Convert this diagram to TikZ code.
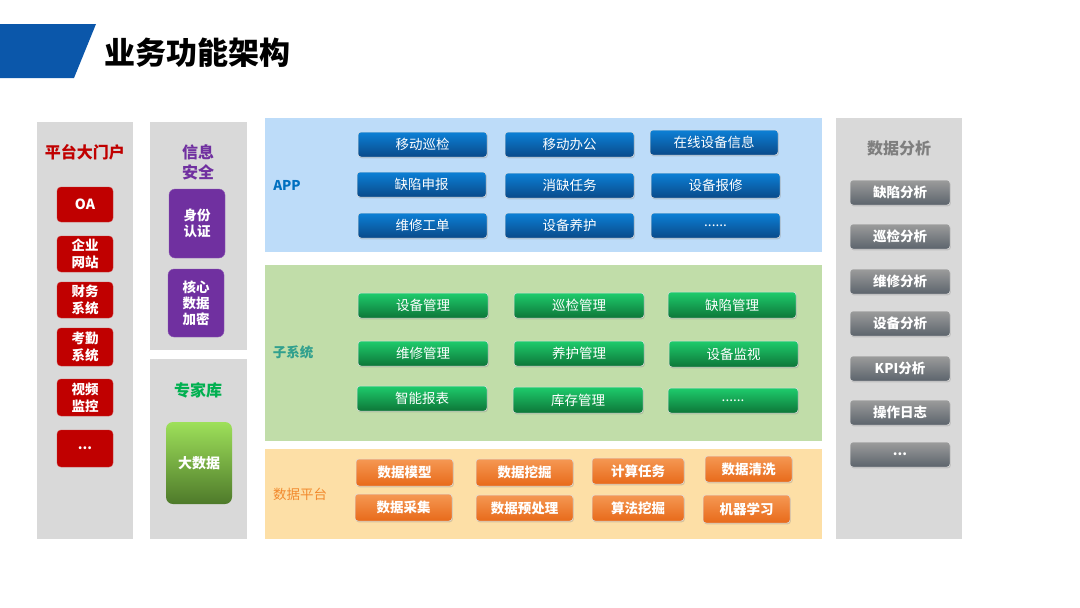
\documentclass[tikz,border=0pt]{standalone}
\usepackage{fontspec}
\setmainfont{Noto Sans CJK SC}
\usetikzlibrary{shadows}
\definecolor{banner}{HTML}{0B57AA}
\definecolor{panelgray}{HTML}{D9D9D9}
\definecolor{appbg}{HTML}{BDDCF9}
\definecolor{subbg}{HTML}{C1DDA9}
\definecolor{databg}{HTML}{FDDFA6}
\definecolor{portalred}{HTML}{C00000}
\definecolor{secpurple}{HTML}{7030A0}
\definecolor{expgreen}{HTML}{00B050}
\definecolor{applabel}{HTML}{0070C0}
\definecolor{sublabel}{HTML}{31A08E}
\definecolor{datalabel}{HTML}{F28A2E}
\definecolor{analabel}{HTML}{7F7F7F}
\definecolor{appTop}{HTML}{0C80D6}
\definecolor{appBot}{HTML}{0A4A8A}
\definecolor{subTop}{HTML}{1ECC6C}
\definecolor{subBot}{HTML}{0D7638}
\definecolor{datTop}{HTML}{F59853}
\definecolor{datBot}{HTML}{E86A1A}
\definecolor{anaTop}{HTML}{9C9C9C}
\definecolor{anaBot}{HTML}{5C646C}
\definecolor{bigTop}{HTML}{9EE05A}
\definecolor{bigBot}{HTML}{4E7A2A}
\newcommand\placebox[7]{%
  \pgfmathsetmacro\mbW{#5-#3}\pgfmathsetmacro\mbH{#6-#4}%
  \pgfmathsetmacro\mbX{(#3+#5)/2}\pgfmathsetmacro\mbY{(#4+#6)/2}%
  \node[#1,minimum width=\mbW pt,minimum height=\mbH pt] (#2) at (\mbX,\mbY) {#7};}
\tikzset{
  panel/.style={fill=#1,draw=none,inner sep=0pt},
  btnbase/.style={rounded corners=3pt,inner sep=0pt,text=white,align=center,
    draw=white!75!gray,line width=0.5pt,
    drop shadow={shadow xshift=0.8pt,shadow yshift=-1.3pt,opacity=0.3}},
  appbtn/.style={btnbase,top color=appTop,bottom color=appBot,font=\fontsize{13.5}{16}\selectfont},
  subbtn/.style={btnbase,top color=subTop,bottom color=subBot,font=\fontsize{13.5}{16}\selectfont},
  datbtn/.style={btnbase,top color=datTop,bottom color=datBot,font=\bfseries\fontsize{13.5}{16}\selectfont},
  anabtn/.style={btnbase,top color=anaTop,bottom color=anaBot,font=\bfseries\fontsize{13.5}{16}\selectfont},
  redbox/.style={rounded corners=4pt,inner sep=0pt,fill=portalred,draw=portalred!80!white,text=white,align=center,font=\bfseries\fontsize{13.5}{17}\selectfont},
  purbox/.style={rounded corners=6pt,inner sep=0pt,fill=secpurple,draw=secpurple!80!white,text=white,align=center,font=\bfseries\fontsize{13.5}{16}\selectfont},
  bigbox/.style={rounded corners=7pt,inner sep=0pt,top color=bigTop,bottom color=bigBot,text=white,font=\bfseries\fontsize{14}{16}\selectfont},
  plabel/.style={font=\bfseries\fontsize{16}{20}\selectfont,align=center},
  alabel/.style={font=\bfseries\fontsize{13.5}{16}\selectfont}
}
\begin{document}
\begin{tikzpicture}[x=1pt,y=-1pt]
\useasboundingbox (0,0) rectangle (1080,608);
\fill[white] (0,0) rectangle (1080,608);
% title banner
\fill[banner] (0,24) -- (96,24) -- (74,78) -- (0,78) -- cycle;
\node[anchor=west,font=\bfseries\fontsize{31}{31}\selectfont,inner sep=0pt] (title) at (104,53) {业务功能架构};

% panels
\placebox{panel=panelgray}{portal}{37}{122}{133}{539}{}
\placebox{panel=panelgray}{security}{150}{122}{247}{350}{}
\placebox{panel=panelgray}{expert}{150}{359}{247}{539}{}
\placebox{panel=appbg}{app}{265}{118}{822}{252}{}
\placebox{panel=subbg}{sub}{265}{265}{822}{441}{}
\placebox{panel=databg}{data}{265}{449}{822}{539}{}
\placebox{panel=panelgray}{analysis}{836}{118}{962}{539}{}

% portal column
\node[plabel,text=portalred] (portalT) at (85,152) {平台大门户};
\placebox{redbox}{oa}{57}{187}{113}{222}{\fontsize{14}{16}\selectfont OA}
\placebox{redbox}{web}{57}{236}{113}{272}{企业\\网站}
\placebox{redbox}{fin}{57}{282}{113}{318}{财务\\系统}
\placebox{redbox}{att}{57}{328}{113}{366}{考勤\\系统}
\placebox{redbox}{vid}{57}{379}{113}{416}{视频\\监控}
\placebox{redbox}{pmore}{57}{430}{113}{467}{...}

% security column
\node[plabel,text=secpurple,font=\bfseries\fontsize{16}{20}\selectfont] (secT) at (198,162) {信息\\安全};
\placebox{purbox}{auth}{169}{189}{225}{258}{身份\\认证}
\placebox{purbox}{enc}{168}{269}{224}{337}{核心\\数据\\加密}

% expert column
\node[plabel,text=expgreen] (expT) at (198,390) {专家库};
\placebox{bigbox}{big}{166}{422}{232}{504}{大数据}

% APP layer
\node[alabel,text=applabel] (appT) at (287,185) {APP};
\placebox{appbtn}{a11}{358}{132}{487}{157}{移动巡检}
\placebox{appbtn}{a12}{505}{132}{634}{157}{移动办公}
\placebox{appbtn}{a13}{650}{130}{778}{155}{在线设备信息}
\placebox{appbtn}{a21}{357}{172}{486}{197}{缺陷申报}
\placebox{appbtn}{a22}{505}{173}{634}{198}{消缺任务}
\placebox{appbtn}{a23}{651}{173}{780}{198}{设备报修}
\placebox{appbtn}{a31}{358}{213}{487}{238}{维修工单}
\placebox{appbtn}{a32}{505}{213}{634}{238}{设备养护}
\placebox{appbtn}{a33}{651}{213}{780}{238}{......}

% subsystem layer
\node[alabel,text=sublabel] (subT) at (293,352) {子系统};
\placebox{subbtn}{s11}{358}{293}{488}{318}{设备管理}
\placebox{subbtn}{s12}{514}{293}{644}{318}{巡检管理}
\placebox{subbtn}{s13}{668}{292}{796}{318}{缺陷管理}
\placebox{subbtn}{s21}{358}{341}{488}{366}{维修管理}
\placebox{subbtn}{s22}{514}{341}{644}{366}{养护管理}
\placebox{subbtn}{s23}{669}{341}{798}{367}{设备监视}
\placebox{subbtn}{s31}{357}{386}{487}{411}{智能报表}
\placebox{subbtn}{s32}{513}{387}{643}{413}{库存管理}
\placebox{subbtn}{s33}{668}{388}{798}{413}{......}

% data platform layer
\node[alabel,text=datalabel,font=\fontsize{13.5}{16}\selectfont] (dataT) at (300,494) {数据平台};
\placebox{datbtn}{d11}{356}{459}{453}{486}{数据模型}
\placebox{datbtn}{d12}{476}{459}{573}{486}{数据挖掘}
\placebox{datbtn}{d13}{592}{458}{684}{484}{计算任务}
\placebox{datbtn}{d14}{705}{456}{792}{482}{数据清洗}
\placebox{datbtn}{d21}{355}{494}{452}{521}{数据采集}
\placebox{datbtn}{d22}{476}{495}{573}{521}{数据预处理}
\placebox{datbtn}{d23}{592}{495}{684}{521}{算法挖掘}
\placebox{datbtn}{d24}{703}{495}{790}{523}{机器学习}

% analysis column
\node[plabel,text=analabel] (anaT) at (899,148) {数据分析};
\placebox{anabtn}{n1}{850}{180}{950}{205}{缺陷分析}
\placebox{anabtn}{n2}{850}{224}{950}{249}{巡检分析}
\placebox{anabtn}{n3}{850}{269}{950}{294}{维修分析}
\placebox{anabtn}{n4}{850}{311}{950}{336}{设备分析}
\placebox{anabtn}{n5}{850}{356}{950}{381}{KPI分析}
\placebox{anabtn}{n6}{850}{400}{950}{425}{操作日志}
\placebox{anabtn}{n7}{850}{442}{950}{467}{...}
\end{tikzpicture}
\end{document}
